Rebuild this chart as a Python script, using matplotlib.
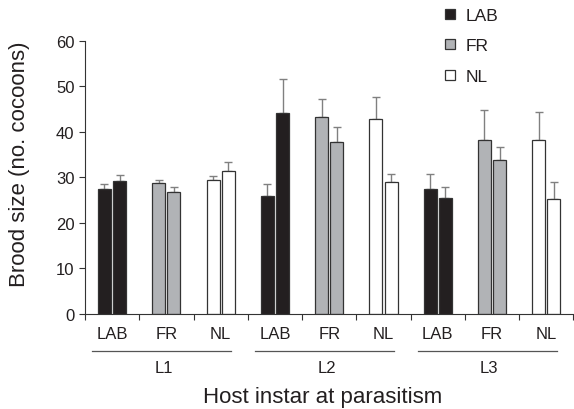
import matplotlib
matplotlib.use("Agg")
import matplotlib.pyplot as plt
import matplotlib.transforms as mtransforms
from matplotlib.lines import Line2D

plt.rcParams['font.family'] = ['Liberation Sans', 'DejaVu Sans']

# ---------------------------------------------------------------
# Data: brood size (mean, upper error) per host instar x source
# ---------------------------------------------------------------
instars = ["L1", "L2", "L3"]
sources = ["LAB", "FR", "NL"]

# two bars per group, groups ordered L1-LAB, L1-FR, L1-NL, L2-LAB, ...
bar1_mean = [27.4, 28.7, 29.4, 25.9, 43.3, 42.8, 27.5, 38.1, 38.3]
bar1_err  = [1.1, 0.8, 0.9, 2.6, 4.0, 4.8, 3.2, 6.8, 6.0]
bar2_mean = [29.1, 26.7, 31.4, 44.1, 37.7, 29.0, 25.5, 33.8, 25.2]
bar2_err  = [1.5, 1.1, 2.0, 7.6, 3.4, 1.7, 2.3, 2.9, 3.7]

COLORS = {"LAB": "#231f20", "FR": "#b1b3b6", "NL": "#ffffff"}
EDGE = "#333333"
ERR = "#808080"
TXT = "#231f20"

fig = plt.figure(figsize=(5.74, 4.10), dpi=100)
ax = fig.add_axes([0.148, 0.232, 0.851, 0.666])

for i in range(9):
    src = sources[i % 3]
    for off, m, e in ((-0.14, bar1_mean[i], bar1_err[i]), (0.14, bar2_mean[i], bar2_err[i])):
        ax.bar(i + off, m, width=0.24, color=COLORS[src], edgecolor=EDGE, linewidth=0.9, zorder=2)
        ax.errorbar(i + off, m, yerr=[[0], [e]], fmt="none", ecolor=ERR,
                    elinewidth=1.0, capsize=3, capthick=1.0, zorder=1)

ax.set_xlim(-0.5, 8.5)
ax.set_ylim(0, 60)
ax.set_yticks(range(0, 61, 10))
ax.set_xticks([x - 0.5 for x in range(10)])
ax.set_xticklabels([])
ax.tick_params(axis="both", direction="out", length=4, width=0.8, color="#333333",
               labelsize=12, labelcolor=TXT)
for side in ("top", "right"):
    ax.spines[side].set_visible(False)
for side in ("left", "bottom"):
    ax.spines[side].set_color("#333333")
    ax.spines[side].set_linewidth(0.8)

# category labels and instar brackets below the axis
trans = mtransforms.blended_transform_factory(ax.transData, fig.transFigure)
for i in range(9):
    ax.text(i, 1 - 335 / 410, sources[i % 3], transform=trans, ha="center", va="center",
            fontsize=12, color=TXT)
for g, name in enumerate(instars):
    x0, x1 = g * 3 - 0.37, g * 3 + 2.19
    fig.add_artist(Line2D([x0, x1], [1 - 352 / 410] * 2, transform=trans,
                          color="#555555", linewidth=0.9))
    ax.text(g * 3 + 0.95, 1 - 369 / 410, name, transform=trans, ha="center", va="center",
            fontsize=12, color=TXT)

fig.text(0.562, 1 - 398 / 410, "Host instar at parasitism", ha="center", va="center",
         fontsize=16, color=TXT)
fig.text(0.034, 0.6, "Brood size (no. cocoons)", ha="center", va="center",
         rotation=90, fontsize=16, color=TXT)

# legend
handles = [Line2D([], [], linestyle="none", marker="s", markersize=6.5,
                  markerfacecolor=COLORS[s], markeredgecolor=EDGE, markeredgewidth=0.9,
                  label=s) for s in sources]
fig.legend(handles=handles, loc="upper left", bbox_to_anchor=(0.745, 1.017),
           frameon=False, fontsize=12.5, handlelength=0.8, handletextpad=0.5,
           labelspacing=0.88, labelcolor=TXT)

fig.savefig("out.png", dpi=100)
